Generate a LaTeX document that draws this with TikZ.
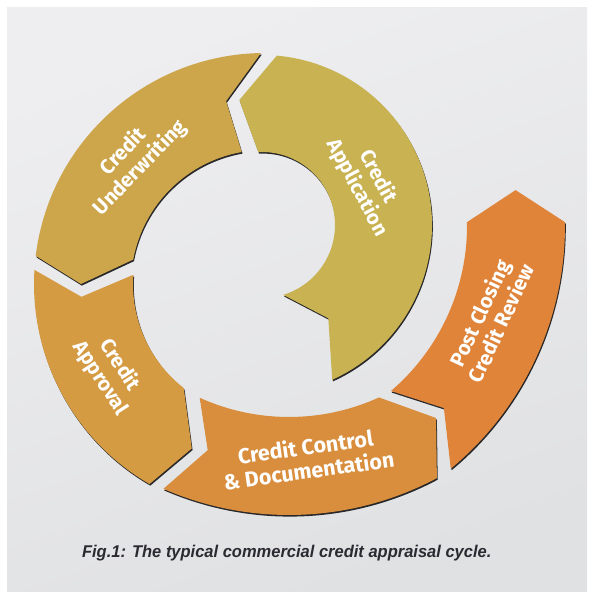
\documentclass[tikz,border=0pt]{standalone}
\usepackage{fontspec}
\setsansfont{Fira Sans}
\newfontfamily\capfont{Liberation Sans}
\usepackage{tikz}

\definecolor{bgtop}{RGB}{238,238,240}
\definecolor{bgbottom}{RGB}{224,225,227}
\definecolor{shadowgray}{RGB}{40,40,42}
\definecolor{capgray}{RGB}{42,42,48}
\definecolor{appcol}{RGB}{200,178,81}
\definecolor{undcol}{RGB}{205,166,76}
\definecolor{aprcol}{RGB}{213,155,66}
\definecolor{ctlcol}{RGB}{217,142,62}
\definecolor{pstcol}{RGB}{224,132,58}

\tikzset{
    steplabel/.style={text=white, font=\sffamily\bfseries\fontsize{20.5}{23.5}\selectfont,
        align=center, inner sep=0pt},
    captext/.style={text=capgray, font=\capfont\bfseries\itshape\fontsize{17}{17}\selectfont,
        xscale=0.97, anchor=base}
}

% one arrow piece: outer arc, tip, inner arc back, notch
\def\arrowpiece{%
    (\oa:\ro) arc[start angle=\oa, end angle=\ob, radius=\ro]
    -- (\ta:\tr)
    -- (\ia:\ri) arc[start angle=\ia, end angle=\ib, radius=\ri]
    -- (\na:\nr) -- cycle}

\begin{document}
\begin{tikzpicture}[x=1pt, y=1pt]
    \useasboundingbox (0,0) rectangle (595,600);

    % background
    \shade[top color=bgtop, bottom color=bgbottom, shading angle=20]
        (7,8) rectangle (587,592);

    % centres of the arcs
    \coordinate (capp) at (262,375);
    \coordinate (cring) at (265,316);
    \coordinate (cctl) at (289,400);
    \coordinate (cpst) at (250,374);

    % arrow pieces
    \foreach \cen/\ro/\ri/\oa/\ob/\ta/\tr/\ia/\ib/\na/\nr/\co in {
        capp/170/73/-65.6/85/100.3/127/92.9/-73.1/-54.6/114.5/appcol,
        cring/231/134/91/173/180/184/169.5/100/102/187/undcol,
        cring/231/132/176.5/240/246/180/232/176/184/184/aprcol,
        cctl/315/217/-113.5/-62/-56/263/-65.5/-114.3/-108/263/ctlcol,
        cpst/315/217/-50.4/0.7/7.7/268/1/-49.5/-43.2/266/pstcol}{

        \fill[shadowgray, shift={(\cen)}, shift={(0.8,-1.6)}] \arrowpiece;
        \fill[\co, shift={(\cen)}] \arrowpiece;
    }

    % labels
    \node[steplabel, rotate=-62] (lapp) at ([shift={(22:114)}]capp) {Credit\\Application};
    \node[steplabel, rotate=46] (lund) at ([shift={(137:182)}]cring) {Credit\\Underwriting};
    \node[steplabel, rotate=-57] (lapr) at ([shift={(209.5:178)}]cring) {Credit\\Approval};
    \node[steplabel, rotate=8, font=\sffamily\bfseries\fontsize{21.5}{24}\selectfont]
        (lctl) at ([shift={(-86:259)}]cctl) {Credit Control\\\& Documentation};
    \node[steplabel, rotate=65] (lpst) at ([shift={(-21:257)}]cpst) {Post Closing\\Credit Review};

    \node[captext] (cap) at (286.7,42.7) {Fig.1: The typical commercial credit appraisal cycle.};
\end{tikzpicture}
\end{document}
